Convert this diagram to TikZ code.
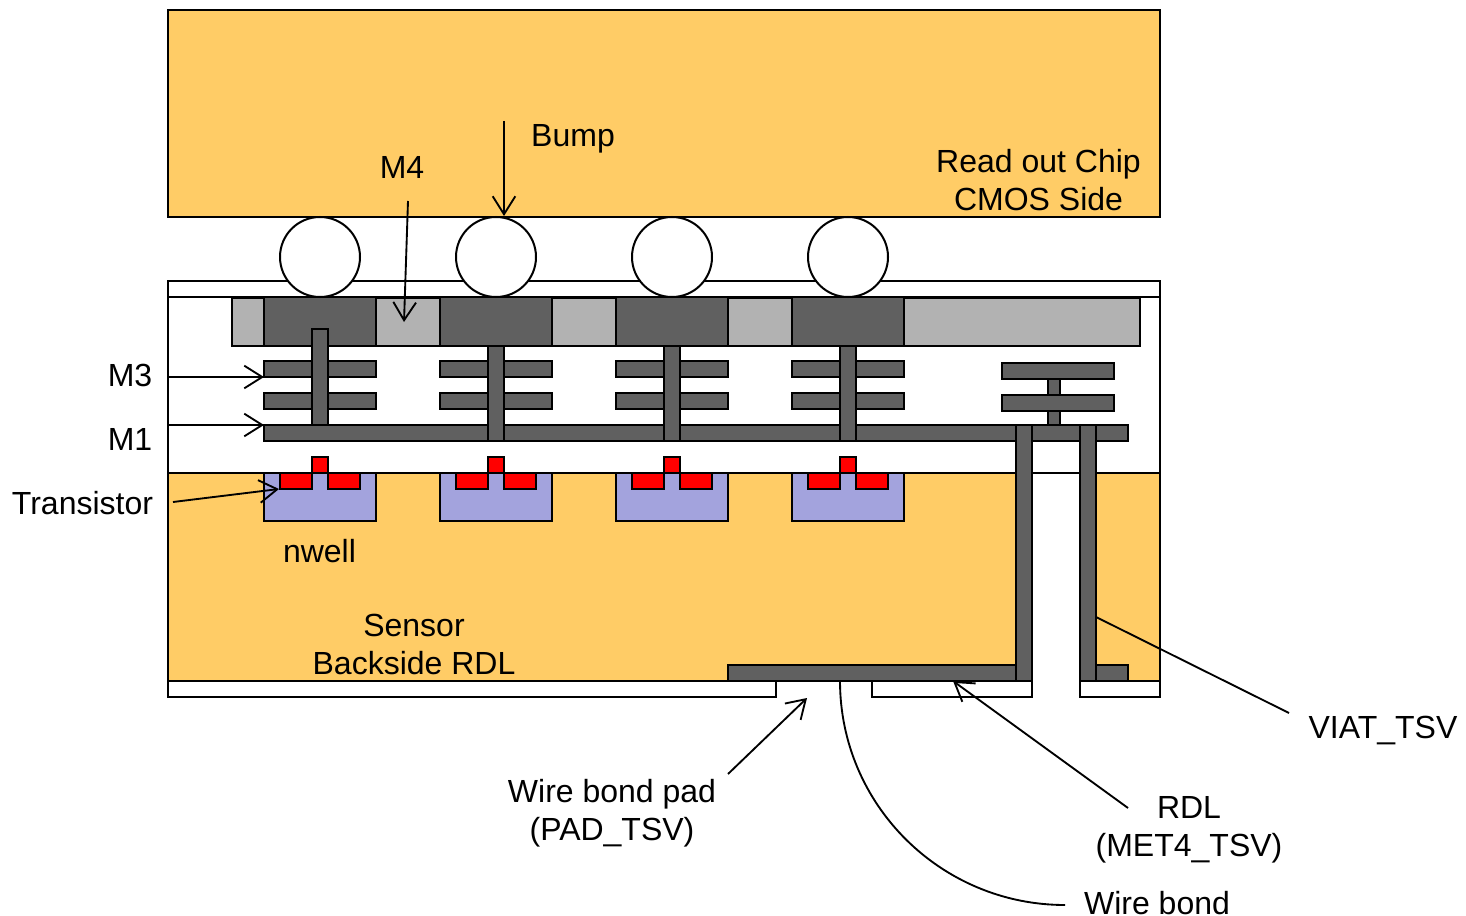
\documentclass[tikz,border=0pt]{standalone}
\usepackage{fontspec}
\setmainfont{Liberation Sans}
\usetikzlibrary{arrows.meta}
\definecolor{chip}{HTML}{FFCC66}
\definecolor{metal}{HTML}{606060}
\definecolor{oxide}{HTML}{B2B2B2}
\definecolor{well}{HTML}{A3A3DD}
\tikzset{
  x=0.75pt,y=-0.75pt,
  shape line/.style={draw=black,line width=1.5pt,line join=miter},
  orange block/.style={shape line,fill=chip},
  white block/.style={shape line,fill=white},
  metal block/.style={shape line,fill=metal},
  oxide block/.style={shape line,fill=oxide},
  well block/.style={shape line,fill=well},
  red block/.style={shape line,fill=red},
  bump ball/.style={shape line,fill=white},
  label text/.style={font=\fontsize{24pt}{28pt}\selectfont,anchor=base,inner sep=0pt,text=black},
  pointer/.style={draw=black,line width=1.4pt,-{Straight Barb[length=13.5pt,width=17pt,line width=1.4pt]}},
  leader/.style={draw=black,line width=1.4pt},
}
\begin{document}
\begin{tikzpicture}
\useasboundingbox (0,0) rectangle (1466,916);
% read-out chip
\draw[orange block] (168,10) rectangle (1160,217);
% sensor stack
\draw[white block] (168,281) rectangle (1160,297);
\draw[white block] (168,297) rectangle (1160,473);
\draw[orange block] (168,473) rectangle (1160,681);
\fill[white] (1033,474) rectangle (1079,697);
\draw[white block] (168,681) rectangle (776,697);
\draw[white block] (872,681) rectangle (1032,697);
\draw[white block] (1080,681) rectangle (1160,697);
% top metal strip
\draw[oxide block] (232,298) rectangle (1140,346);
% RDL
\draw[metal block] (728,665) rectangle (1016,681);
\draw[metal block] (1096,665) rectangle (1128,681);
% M1
\draw[metal block] (264,425) rectangle (1128,441);
% repeated cells
\foreach \x in {264,440,616,792}{
  \draw[metal block] (\x,297) rectangle +(112,49);
  \draw[metal block] (\x,361) rectangle +(112,16);
  \draw[metal block] (\x,393) rectangle +(112,16);
  \draw[well block] (\x,473) rectangle +(112,48);
  \draw[red block] (\x+16,473) rectangle +(32,16);
  \draw[red block] (\x+64,473) rectangle +(32,16);
  \draw[red block] (\x+48,457) rectangle +(16,16);
}
\draw[metal block] (312,329) rectangle (328,425);
\foreach \x in {488,664,840}{
  \draw[metal block] (\x,346) rectangle +(16,95);
}
% right stack
\draw[metal block] (1048,379) rectangle (1060,395);
\draw[metal block] (1048,411) rectangle (1060,425);
\draw[metal block] (1002,363) rectangle (1114,379);
\draw[metal block] (1002,395) rectangle (1114,411);
% TSV walls
\draw[metal block] (1016,425) rectangle (1032,681);
\draw[metal block] (1080,425) rectangle (1096,681);
% bumps
\foreach \x/\n in {320/a,496/b,672/c,848/d}{
  \node[bump ball,circle,minimum size=60pt,inner sep=0pt] (bump\n) at (\x,257) {};
}
% labels
\node[label text] (lchip) at (1038.5,173) {Read out Chip};
\node[label text] (lcmos) at (1038.5,211) {CMOS Side};
\node[label text] (lbump) at (573,147) {Bump};
\node[label text] (lmfour) at (402,179) {M4};
\node[label text] (lmthree) at (130,386) {M3};
\node[label text] (lmone) at (130,450) {M1};
\node[label text] (ltrans) at (82.5,514) {Transistor};
\node[label text] (lnwell) at (319.5,562) {nwell};
\node[label text] (lsensor) at (414,636) {Sensor};
\node[label text] (lback) at (414,674) {Backside RDL};
\node[label text] (lpad) at (612,802) {Wire bond pad};
\node[label text] (lpadb) at (612,840) {(PAD\_TSV)};
\node[label text] (lrdl) at (1189,818) {RDL};
\node[label text] (lrdlb) at (1189,856) {(MET4\_TSV)};
\node[label text] (lwire) at (1157,914) {Wire bond};
\node[label text] (lviat) at (1383,738) {VIAT\_TSV};
% connector ends
\coordinate (mthreeS) at (168,377); \coordinate (mthreeE) at (264,377);
\coordinate (moneS) at (168,425); \coordinate (moneE) at (264,425);
\coordinate (transS) at (173,502); \coordinate (transE) at (279,489);
\coordinate (mfourS) at (408,201); \coordinate (mfourE) at (404,322);
\coordinate (bumpS) at (504,121); \coordinate (bumpE) at (504,216);
\coordinate (padS) at (728,774); \coordinate (padE) at (807,698);
\coordinate (rdlS) at (1128,808); \coordinate (rdlE) at (953,681);
\coordinate (viatS) at (1289,713); \coordinate (viatE) at (1096,617);
\coordinate (wireS) at (1065,905); \coordinate (wireE) at (840,681);
% connectors
\draw[pointer] (mthreeS) -- (mthreeE);
\draw[pointer] (moneS) -- (moneE);
\draw[pointer] (transS) -- (transE);
\draw[pointer] (mfourS) -- (mfourE);
\draw[pointer] (bumpS) -- (bumpE);
\draw[pointer] (padS) -- (padE);
\draw[pointer] (rdlS) -- (rdlE);
\draw[leader] (viatS) -- (viatE);
\draw[leader] (wireE) .. controls (840,805) and (941,905) .. (wireS);
\end{tikzpicture}
\end{document}
